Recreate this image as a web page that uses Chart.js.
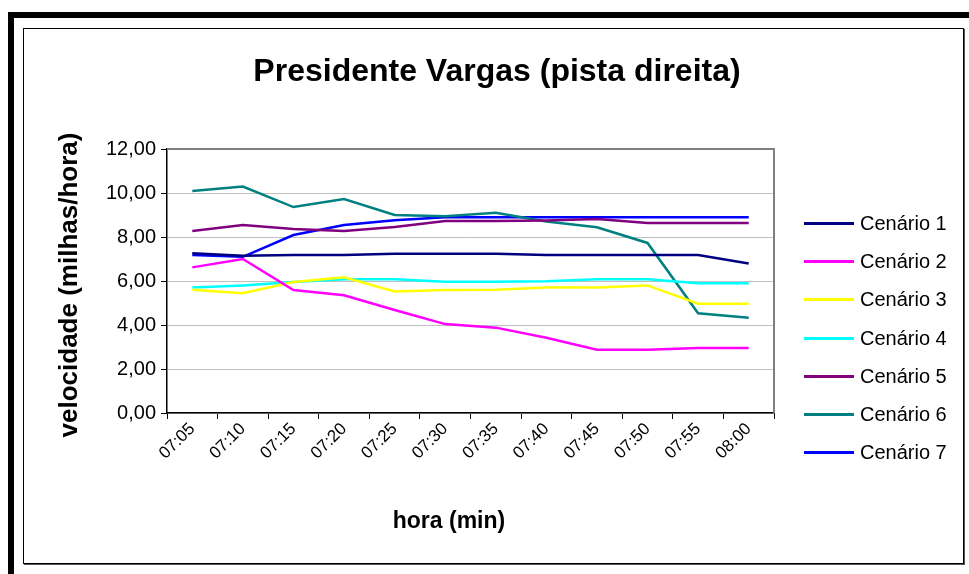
<!DOCTYPE html>
<html>
<head>
<meta charset="utf-8">
<script src="https://cdn.jsdelivr.net/npm/chart.js@4.4.1/dist/chart.umd.min.js"></script>
<style>
  html, body { margin:0; padding:0; background:#fff; }
  #wrap { position:relative; width:969px; height:574px; overflow:hidden; font-family:"Liberation Sans", Arial, sans-serif; }
  #barTop { position:absolute; left:8px; top:12px; width:961px; height:6px; background:#000; }
  #barLeft { position:absolute; left:8px; top:12px; width:6px; height:562px; background:#000; }
  #frame { position:absolute; left:23px; top:28px; width:939px; height:534px; border:1px solid #000; box-shadow:1px 1px 0 #555; }
  #title { position:absolute; left:197px; width:600px; top:50px; text-align:center; font-weight:bold; font-size:32px; line-height:40px; color:#000; }
  #xtitle { position:absolute; left:249px; width:400px; top:506px; text-align:center; font-weight:bold; font-size:23px; line-height:28px; color:#000; }
  #ytitle { position:absolute; left:-132px; width:400px; top:270px; text-align:center; font-weight:bold; font-size:26px; line-height:30px; color:#000; transform:rotate(-90deg); transform-origin:200px 15px; }
  #cv { position:absolute; left:0; top:0; }
  #legend { position:absolute; left:804px; top:0; }
  .li { position:absolute; left:0; width:160px; height:24px; }
  .li .ln { position:absolute; left:0; top:11px; width:50px; height:3px; }
  .li .tx { position:absolute; left:56px; top:0; font-size:20px; line-height:24px; color:#000; white-space:nowrap; }
</style>
</head>
<body>
<div id="wrap">
  <div id="barTop"></div>
  <div id="barLeft"></div>
  <div id="frame"></div>
  <canvas id="cv" width="969" height="574"></canvas>
  <div id="title">Presidente Vargas (pista direita)</div>
  <div id="xtitle">hora (min)</div>
  <div id="ytitle">velocidade (milhas/hora)</div>
  <div id="legend"></div>
</div>
<script>
const categories = ["07:05","07:10","07:15","07:20","07:25","07:30","07:35","07:40","07:45","07:50","07:55","08:00"];
const seriesNames = ["Cenário 1","Cenário 2","Cenário 3","Cenário 4","Cenário 5","Cenário 6","Cenário 7"];
const cenario1 = [7.26, 7.15, 7.18, 7.18, 7.24, 7.24, 7.24, 7.18, 7.18, 7.18, 7.18, 6.80];
const cenario2 = [6.62, 7.00, 5.59, 5.35, 4.68, 4.04, 3.88, 3.42, 2.88, 2.88, 2.95, 2.95];
const cenario3 = [5.60, 5.44, 5.95, 6.17, 5.52, 5.59, 5.60, 5.70, 5.70, 5.80, 4.97, 4.97];
const cenario4 = [5.70, 5.80, 5.95, 6.08, 6.08, 5.97, 5.97, 5.99, 6.08, 6.08, 5.90, 5.90];
const cenario5 = [8.27, 8.55, 8.36, 8.27, 8.45, 8.73, 8.73, 8.75, 8.82, 8.64, 8.64, 8.64];
const cenario6 = [10.09, 10.29, 9.36, 9.73, 9.00, 8.94, 9.10, 8.70, 8.44, 7.73, 4.53, 4.33];
const cenario7 = [7.18, 7.10, 8.09, 8.55, 8.76, 8.90, 8.90, 8.90, 8.90, 8.90, 8.90, 8.90];
const yTickValues = [0, 2, 4, 6, 8, 10, 12];
const seriesColors = ["#000080","#FF00FF","#FFFF00","#00FFFF","#800080","#008080","#0000FF"];
const allSeries = [cenario1, cenario2, cenario3, cenario4, cenario5, cenario6, cenario7];

const datasets = allSeries.map((d, i) => ({
  label: seriesNames[i],
  data: d,
  borderColor: seriesColors[i],
  backgroundColor: seriesColors[i],
  borderWidth: 2.5,
  pointRadius: 0,
  tension: 0,
  fill: false
}));

const frameLines = {
  id: 'frameLines',
  beforeDatasetsDraw(chart) {
    const {ctx, chartArea:a} = chart;
    ctx.save();
    ctx.strokeStyle = '#808080';
    ctx.lineWidth = 2;
    ctx.beginPath();
    ctx.moveTo(a.left, a.top);
    ctx.lineTo(a.right, a.top);
    ctx.lineTo(a.right, a.bottom);
    ctx.stroke();
    ctx.restore();
  }
};

const fontFam = '"Liberation Sans", Arial, sans-serif';
new Chart(document.getElementById('cv'), {
  type: 'line',
  data: { labels: categories, datasets },
  options: {
    responsive: false,
    animation: false,
    devicePixelRatio: 1,
    layout: { padding: { left: 51, top: 149, right: 195, bottom: 37 } },
    plugins: { legend: { display: false }, title: { display: false }, tooltip: { enabled: false } },
    scales: {
      x: {
        type: 'category',
        offset: true,
        afterFit(s) { s.height = 124; },
        grid: { display: true, drawOnChartArea: false, drawTicks: true, tickLength: 6, tickColor: '#000', offset: true, lineWidth: 1 },
        border: { display: true, color: '#000', width: 1.5 },
        ticks: { color: '#000', font: { family: fontFam, size: 17 }, minRotation: 45, maxRotation: 45, padding: 0, labelOffset: 0, autoSkip: false },
        title: { display: false }
      },
      y: {
        min: 0, max: 12,
        afterFit(s) { s.width = 167 - 51; },
        afterBuildTicks(s) { s.ticks = yTickValues.map(v => ({ value: v })); },
        grid: { color: '#c0c0c0', lineWidth: 1, drawTicks: true, tickLength: 6, tickColor: '#000' },
        border: { display: true, color: '#000', width: 1.5 },
        ticks: { color: '#000', font: { family: fontFam, size: 20 }, padding: 5,
          callback: v => Number(v).toFixed(2).replace('.', ',') },
        title: { display: false }
      }
    }
  },
  plugins: [frameLines]
});

const legendRows = [223, 261, 299, 338, 376, 414, 452];
const lg = document.getElementById('legend');
seriesNames.forEach((n, i) => {
  const row = document.createElement('div');
  row.className = 'li';
  row.style.top = (legendRows[i] - 12) + 'px';
  row.innerHTML = '<div class="ln" style="background:' + seriesColors[i] + '"></div><div class="tx">' + n + '</div>';
  lg.appendChild(row);
});
</script>
</body>
</html>
